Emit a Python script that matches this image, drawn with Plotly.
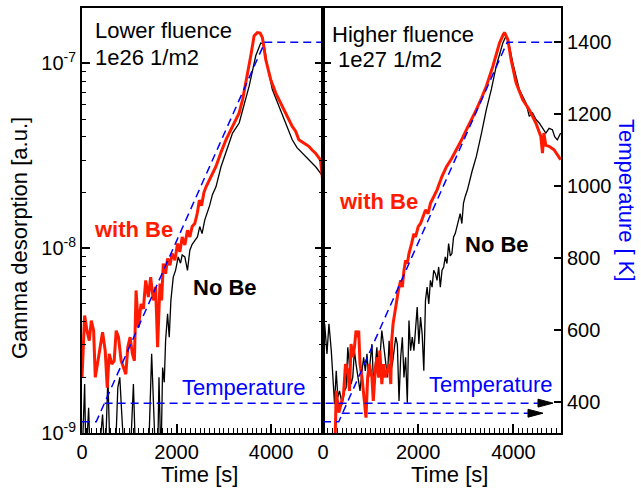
import plotly.graph_objects as go

# ---------------- data ----------------
# Left panel: lower fluence 1e26 1/m2
left_be_t = [0, 56, 105, 154, 197, 246, 281, 337, 386, 435, 491, 534, 576, 632, 681, 723, 772, 828, 878, 927,
             969, 1018, 1067, 1109, 1144, 1193, 1250, 1299, 1348, 1404, 1453, 1509, 1558, 1600, 1650, 1685, 1720,
             1769, 1811, 1860, 1909, 1966, 2022, 2071, 2120, 2176, 2232, 2282, 2331, 2387, 2440, 2484, 2530, 2580,
             2625, 2700, 2760, 2835, 2940, 3046, 3186, 3326, 3400, 3467, 3572, 3642, 3712, 3770, 3818, 3888, 3993,
             4098, 4239, 4340, 4449, 4520, 4589, 4700, 4800, 4870, 4941, 5046, 5100]
left_be_v = [2.0e-9, 4.32e-9, 3.58e-9, 3.16e-9, 4.06e-9, 3.58e-9, 2.0e-9, 2.46e-9, 2.91e-9, 3.51e-9, 2.79e-9,
             1.76e-9, 2.68e-9, 2.36e-9, 2.46e-9, 3.58e-9, 3.30e-9, 2.46e-9, 2.26e-9, 2.08e-9, 2.91e-9, 3.30e-9,
             2.68e-9, 2.46e-9, 5.91e-9, 3.73e-9, 5.0e-9, 4.70e-9, 6.70e-9, 5.44e-9, 6.98e-9, 5.22e-9, 6.16e-9,
             2.91e-9, 6.43e-9, 5.22e-9, 8.26e-9, 7.28e-9, 8.79e-9, 8.09e-9, 9.36e-9, 8.61e-9, 1.06e-8, 9.55e-9,
             1.15e-8, 1.04e-8, 1.25e-8, 1.15e-8, 1.31e-8, 1.36e-8, 1.55e-8, 1.82e-8, 1.70e-8, 2.0e-8, 2.15e-8,
             2.35e-8, 2.5e-8, 2.77e-8, 3.3e-8, 3.86e-8, 4.56e-8, 5.4e-8, 6.4e-8, 7.85e-8, 1.10e-7, 1.41e-7,
             1.47e-7, 1.46e-7, 1.38e-7, 1.05e-7, 8.19e-8, 6.93e-8, 5.86e-8, 5.2e-8, 4.56e-8, 4.3e-8, 3.86e-8,
             3.7e-8, 3.56e-8, 3.4e-8, 3.27e-8, 3.01e-8, 2.25e-8]

left_nobe_t = [0, 56, 84, 140, 176, 211, 281, 351, 435, 491, 548, 597, 632, 702, 758, 800, 842, 899, 948, 1018,
               1088, 1137, 1193, 1264, 1334, 1404, 1474, 1509, 1558, 1600, 1629, 1671, 1706, 1741, 1769, 1811,
               1846, 1881, 1931, 1980, 2036, 2085, 2120, 2176, 2232, 2282, 2331, 2387, 2443, 2492, 2541, 2597,
               2700, 2760, 2835, 2940, 3046, 3186, 3326, 3430, 3537, 3677, 3782, 3853, 3923, 4028, 4130, 4239,
               4340, 4449, 4550, 4660, 4760, 4870, 4950, 5046, 5100]
left_nobe_v = [7e-10, 1.84e-9, 7e-10, 1.37e-9, 7e-10, 7e-10, 9e-10, 7e-10, 1.26e-9, 7e-10, 2.0e-9, 7e-10, 9e-10,
               7e-10, 1.76e-9, 2.0e-9, 1.26e-9, 7e-10, 7e-10, 7e-10, 1.84e-9, 7e-10, 7e-10, 7e-10, 7e-10, 7e-10,
               2.68e-9, 1.62e-9, 7e-10, 7e-10, 2.0e-9, 7e-10, 2.26e-9, 1.88e-9, 3.16e-9, 4.42e-9, 3.30e-9, 5.22e-9,
               6.98e-9, 7.59e-9, 8.97e-9, 8.3e-9, 9.2e-9, 8.97e-9, 7.59e-9, 9.75e-9, 1.05e-8, 1.10e-8, 1.15e-8,
               1.31e-8, 1.2e-8, 1.42e-8, 1.7e-8, 1.95e-8, 2.15e-8, 2.75e-8, 3.27e-8, 4.2e-8, 4.76e-8, 5.9e-8,
               7.53e-8, 1.10e-7, 1.29e-7, 1.27e-7, 9.66e-8, 7.22e-8, 6.2e-8, 5.4e-8, 4.6e-8, 3.86e-8, 3.5e-8,
               3.27e-8, 3.1e-8, 2.89e-8, 2.75e-8, 2.55e-8, 2.45e-8]

left_temp_t = [0, 300, 3870, 5100]
left_temp_k = [345, 345, 1400, 1400]

# Right panel: higher fluence 1e27 1/m2
right_be_t = [250, 278, 333, 382, 431, 472, 521, 556, 590, 625, 660, 694, 729, 750, 778, 819, 868, 903, 938, 972,
              1028, 1056, 1097, 1132, 1167, 1194, 1236, 1271, 1306, 1354, 1389, 1424, 1444, 1472, 1514, 1542,
              1583, 1632, 1667, 1701, 1736, 1771, 1806, 1861, 1910, 1944, 2000, 2049, 2097, 2153, 2208, 2257,
              2326, 2396, 2500, 2597, 2700, 2806, 2910, 3014, 3120, 3222, 3330, 3431, 3569, 3708, 3780, 3813,
              3882, 3951, 4056, 4194, 4333, 4472, 4576, 4611, 4640, 4681, 4750, 4854, 4993]
right_be_v = [8e-10, 1.69e-9, 1.29e-9, 1.43e-9, 1.62e-9, 2.36e-9, 2.17e-9, 1.69e-9, 3.03e-9, 2.57e-9, 2.91e-9,
              3.58e-9, 3.30e-9, 3.58e-9, 2.36e-9, 2.0e-9, 1.43e-9, 1.21e-9, 2.0e-9, 2.36e-9, 2.0e-9, 1.49e-9,
              2.17e-9, 2.57e-9, 2.0e-9, 2.79e-9, 1.84e-9, 2.36e-9, 2.0e-9, 2.17e-9, 2.36e-9, 1.84e-9, 3.16e-9,
              3.90e-9, 4.6e-9, 5.21e-9, 5.91e-9, 6.7e-9, 6.16e-9, 7.59e-9, 8.6e-9, 8.26e-9, 9.36e-9, 1.06e-8,
              1.2e-8, 1.15e-8, 1.31e-8, 1.36e-8, 1.48e-8, 1.61e-8, 1.54e-8, 1.75e-8, 1.90e-8, 2.07e-8, 2.45e-8,
              2.77e-8, 3.05e-8, 3.41e-8, 3.85e-8, 4.38e-8, 4.95e-8, 5.62e-8, 6.5e-8, 7.53e-8, 9.66e-8, 1.29e-7,
              1.42e-7, 1.47e-7, 1.35e-7, 1.05e-7, 7.85e-8, 6.37e-8, 5.62e-8, 4.76e-8, 4.03e-8, 3.27e-8, 4.2e-8,
              3.6e-8, 3.56e-8, 3.41e-8, 3.01e-8]

right_nobe_t = [0, 35, 83, 125, 174, 208, 243, 278, 312, 347, 403, 451, 486, 521, 556, 590, 625, 660, 694, 729,
                778, 819, 854, 889, 924, 958, 993, 1028, 1062, 1097, 1132, 1167, 1201, 1236, 1271, 1319, 1354,
                1389, 1424, 1458, 1493, 1528, 1562, 1597, 1632, 1667, 1701, 1736, 1771, 1806, 1840, 1875, 1910,
                1944, 1979, 2014, 2049, 2083, 2118, 2153, 2187, 2222, 2257, 2292, 2326, 2361, 2396, 2430, 2465,
                2500, 2535, 2569, 2604, 2639, 2674, 2708, 2743, 2778, 2812, 2847, 2882, 2917, 2951, 2986, 3035,
                3130, 3222, 3330, 3431, 3540, 3639, 3778, 3847, 3917, 3986, 4125, 4264, 4300, 4333, 4403, 4470,
                4542, 4610, 4681, 4750, 4819, 4870, 4924, 4993]
right_nobe_v = [3.73e-9, 3.90e-9, 2.68e-9, 3.90e-9, 2.79e-9, 2.08e-9, 1.43e-9, 2.17e-9, 1.56e-9, 1.69e-9,
                1.43e-9, 1.69e-9, 1.76e-9, 2.91e-9, 2.36e-9, 1.84e-9, 2.0e-9, 2.79e-9, 2.36e-9, 2.0e-9, 1.69e-9,
                2.17e-9, 2.57e-9, 2.17e-9, 2.68e-9, 2.0e-9, 2.57e-9, 3.03e-9, 1.84e-9, 2.36e-9, 2.91e-9, 2.0e-9,
                2.57e-9, 3.58e-9, 3.03e-9, 2.36e-9, 2.0e-9, 3.16e-9, 2.17e-9, 2.36e-9, 2.79e-9, 3.30e-9, 3.03e-9,
                1.49e-9, 2.57e-9, 3.30e-9, 2.0e-9, 2.57e-9, 1.46e-9, 4.06e-9, 2.79e-9, 3.30e-9, 2.79e-9, 3.58e-9,
                4.80e-9, 3.03e-9, 4.24e-9, 3.44e-9, 2.17e-9, 5.22e-9, 6.16e-9, 5.0e-9, 6.70e-9, 6.16e-9, 7.59e-9,
                7.28e-9, 6.70e-9, 7.92e-9, 6.16e-9, 7.59e-9, 7.92e-9, 8.97e-9, 8.26e-9, 1.06e-8, 9.1e-9, 9.36e-9,
                1.15e-8, 1.2e-8, 1.31e-8, 1.42e-8, 1.54e-8, 1.36e-8, 1.75e-8, 1.90e-8, 2.07e-8, 2.6e-8, 3.14e-8,
                4.2e-8, 5.62e-8, 7.3e-8, 9.66e-8, 1.29e-7, 1.41e-7, 1.24e-7, 1.01e-7, 7.22e-8, 6.11e-8, 5.6e-8,
                5.17e-8, 5.4e-8, 5.0e-8, 4.76e-8, 4.5e-8, 4.2e-8, 4.45e-8, 4.38e-8, 4.0e-8, 3.86e-8, 4.2e-8]

right_temp_t = [0, 330, 3870, 5000]
right_temp_k = [345, 345, 1400, 1400]

# axis ticks
time_label_vals = [0, 2000, 4000]
time_label_text = ["0", "2000", "4000"]
gamma_tickvals = [1e-9, 1e-8, 1e-7]
gamma_ticktext = ["10<sup>-9</sup>", "10<sup>-8</sup>", "10<sup>-7</sup>"]
gamma_minor = [m * 10.0 ** e for e in (-9, -8) for m in range(2, 10)] + [2e-7]
temp_tickvals = [400, 600, 800, 1000, 1200, 1400]

# ---------------- figure ----------------
FONT = "Liberation Sans, Arial, Helvetica, sans-serif"
RED = "#ff1a00"
BLUE = "#0000ff"
DASH = "8px,5px"

fig = go.Figure()

fig.add_trace(go.Scatter(x=left_nobe_t, y=left_nobe_v, mode="lines", line=dict(color="black", width=1.3),
                         xaxis="x", yaxis="y", showlegend=False))
fig.add_trace(go.Scatter(x=left_be_t, y=left_be_v, mode="lines", line=dict(color=RED, width=3),
                         xaxis="x", yaxis="y", showlegend=False))
fig.add_trace(go.Scatter(x=left_temp_t, y=left_temp_k, mode="lines", line=dict(color=BLUE, width=1.5, dash=DASH),
                         xaxis="x", yaxis="y3", showlegend=False))

fig.add_trace(go.Scatter(x=right_nobe_t, y=right_nobe_v, mode="lines", line=dict(color="black", width=1.3),
                         xaxis="x2", yaxis="y2", showlegend=False))
fig.add_trace(go.Scatter(x=right_be_t, y=right_be_v, mode="lines", line=dict(color=RED, width=3),
                         xaxis="x2", yaxis="y2", showlegend=False))
fig.add_trace(go.Scatter(x=right_temp_t, y=right_temp_k, mode="lines", line=dict(color=BLUE, width=1.5, dash=DASH),
                         xaxis="x2", yaxis="y4", showlegend=False))

split = 241 / 479.0
TRANGE = [314, 1495]

xcommon = dict(showgrid=False, zeroline=False, showline=True, linecolor="black", linewidth=2, mirror=True,
               ticks="inside", ticklen=9, tickwidth=1.5, tickcolor="black", automargin=False,
               tickmode="array", tickvals=time_label_vals, ticktext=time_label_text,
               tickfont=dict(size=20, color="black", family=FONT),
               minor=dict(ticks="inside", ticklen=5, tickwidth=1.2, tickcolor="black", tickmode="linear",
                          tick0=0, dtick=100, showgrid=False))
# unlabelled long ticks every 1000 s at the bottom
xbot = dict(showgrid=False, zeroline=False, showline=False, side="bottom", ticks="inside", ticklen=9,
            tickwidth=1.5, tickcolor="black", tickmode="linear", tick0=0, dtick=1000, showticklabels=False,
            automargin=False)
# dense short ticks along the top edge
xtop = dict(showgrid=False, zeroline=False, showline=False, side="top", ticks="inside", ticklen=6,
            tickwidth=1.2, tickcolor="black", tickmode="linear", tick0=0, dtick=1000, showticklabels=False,
            automargin=False,
            minor=dict(ticks="inside", ticklen=3, tickwidth=1, tickcolor="black", tickmode="linear",
                       tick0=0, dtick=50, showgrid=False))
ylog = dict(type="log", range=[-9, -6.7], showgrid=False, zeroline=False, showline=True, linecolor="black",
            linewidth=2, ticks="inside", ticklen=8, tickwidth=1.5, tickcolor="black", automargin=False,
            tickmode="array", tickvals=gamma_tickvals,
            minor=dict(ticks="inside", ticklen=4, tickwidth=1.2, tickcolor="black", tickvals=gamma_minor,
                       showgrid=False))

fig.update_layout(
    width=641, height=492,
    margin=dict(l=82, r=80, t=8, b=59, autoexpand=False),
    paper_bgcolor="white", plot_bgcolor="white",
    font=dict(family=FONT, color="black", size=20),
    showlegend=False,
    xaxis=dict(domain=[0, split], range=[0, 5100], anchor="y", **xcommon),
    xaxis2=dict(domain=[split, 1], range=[0, 5000], anchor="y2", **xcommon),
    xaxis3=dict(overlaying="x", anchor="y", range=[0, 5100], **xtop),
    xaxis4=dict(overlaying="x2", anchor="y2", range=[0, 5000], **xtop),
    xaxis5=dict(overlaying="x", anchor="y", range=[0, 5100], **xbot),
    xaxis6=dict(overlaying="x2", anchor="y2", range=[0, 5000], **xbot),
    yaxis=dict(domain=[0, 1], anchor="x", mirror="ticks", ticktext=gamma_ticktext,
               tickfont=dict(size=20, color="black", family=FONT), **ylog),
    yaxis2=dict(domain=[0, 1], anchor="x2", mirror=True, showticklabels=False, **ylog),
    yaxis3=dict(overlaying="y", anchor="x", range=TRANGE, visible=False, showgrid=False),
    yaxis4=dict(overlaying="y2", anchor="x2", side="right", range=TRANGE, showgrid=False, zeroline=False,
                showline=True, linecolor="black", linewidth=2, ticks="inside", ticklen=7, tickwidth=1.5,
                tickcolor="black", tickmode="array", tickvals=temp_tickvals, automargin=False,
                tickfont=dict(size=20, color="black", family=FONT)),
)


def px_x(p):
    return (p - 82) / 479.0


def px_y(p):
    return (433 - p) / 425.0


def label(text, x, y, color="black", bold=False, xanchor="left", angle=0, size=22):
    fig.add_annotation(text=("<b>%s</b>" % text) if bold else text, x=px_x(x), y=px_y(y),
                       xref="paper", yref="paper", xanchor=xanchor, yanchor="middle", showarrow=False,
                       textangle=angle, font=dict(family=FONT, size=size, color=color))


label("Lower fluence", 93, 31)
label("1e26 1/m2", 93, 57.5)
label("Higher fluence", 330, 35)
label("1e27 1/m2", 336, 60)
label("with Be", 92, 229, color=RED, bold=True)
label("No Be", 191, 287.5, bold=True)
label("Temperature", 180, 387.5, color=BLUE)
label("with Be", 337, 202, color=RED, bold=True)
label("No Be", 463, 244, bold=True)
label("Temperature", 427, 384, color=BLUE)
label("Time [s]", 199, 474, xanchor="center")
label("Time [s]", 449, 474, xanchor="center")
label("Gamma desorption [a.u.]", 19, 238, xanchor="center", angle=-90)
label("Temperature [ K]", 627, 200, color=BLUE, xanchor="center", angle=90)

# temperature pointer arrows (dashed line + filled head)
for x0, x1, tip, yk in [(104.6, 538, 553, 397), (341.7, 528, 543, 369)]:
    fig.add_shape(type="line", xref="paper", yref="y4", x0=px_x(x0), x1=px_x(x1), y0=yk, y1=yk,
                  line=dict(color=BLUE, width=1.5, dash=DASH))
    fig.add_shape(type="path", xref="paper", yref="y4",
                  path="M %f,%f L %f,%f L %f,%f Z" % (px_x(x1), yk - 11, px_x(tip), yk, px_x(x1), yk + 11),
                  fillcolor="black", line=dict(color="black", width=1))

fig.write_html("out.html", config={"displayModeBar": False},
               post_script="document.body.style.margin='0';document.body.style.padding='0';"
                           "document.documentElement.style.overflow='hidden';")
